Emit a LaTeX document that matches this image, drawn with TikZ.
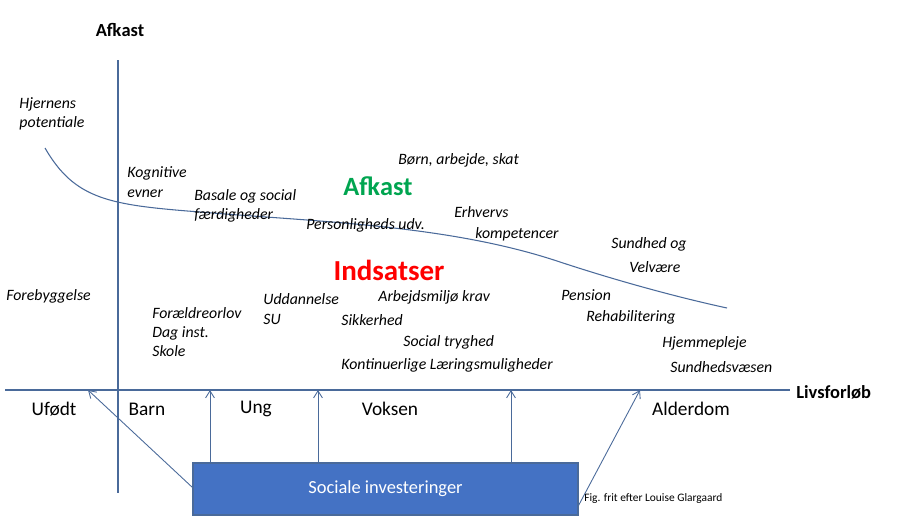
\documentclass[tikz,border=0pt]{standalone}
\usepackage{fontspec}
\setmainfont{Carlito}
\usetikzlibrary{arrows.meta}
\definecolor{ln}{HTML}{4A6A9A}
\definecolor{bx}{HTML}{4472C4}
\definecolor{gr}{HTML}{00A550}
\begin{document}
\begin{tikzpicture}[x=0.02cm,y=-0.02cm,
  lbl/.style={font=\fontsize{9}{11}\selectfont\itshape,align=left,inner sep=0},
  stage/.style={font=\fontsize{11}{13}\selectfont,inner sep=0},
  ax/.style={font=\fontsize{10.5}{12}\selectfont\bfseries,inner sep=0},
  arr/.style={ln,line width=0.5pt,-{Straight Barb[length=4pt,width=5pt]}}]
\useasboundingbox (0,0) rectangle (907,525);
\fill[white] (0,0) rectangle (907,525);
\coordinate (vt) at (118,60); \coordinate (vb) at (118,493);
\coordinate (hl) at (5,390); \coordinate (hr) at (790,390);
\draw[ln,line width=0.6pt] (vt) -- (vb);
\draw[ln,line width=0.6pt] (hl) -- (hr);
\node[ax] (afk) at (120,30) {Afkast};
\node[ax,anchor=west] (liv) at (796,392) {Livsforløb};
\draw[ln,line width=0.6pt] (45,148) .. controls (75,200) and (110,205) .. (200,212)
  .. controls (320,222) and (450,225) .. (560,262) .. controls (630,285) and (690,300) .. (727,308);
\node[lbl] (hj) at (52,114) {Hjernens\\potentiale};
\node[lbl,anchor=west] (ko) at (127,182) {Kognitive\\evner};
\node[lbl,anchor=west] (ba) at (194,206) {Basale og social\\færdigheder};
\node[font=\fontsize{15}{18}\selectfont\bfseries,text=gr,inner sep=0] (ag) at (378,186) {Afkast};
\node[lbl,anchor=west] (bo) at (398,160) {Børn, arbejde, skat};
\node[lbl,anchor=west] (pe) at (306,225) {Personligheds udv.};
\node[lbl,anchor=west] (er) at (454,212) {Erhvervs};
\node[lbl,anchor=west] (kp) at (475,234) {kompetencer};
\node[lbl,anchor=west] (su) at (611,244) {Sundhed og};
\node[lbl,anchor=west] (ve) at (629,267) {Velvære};
\node[font=\fontsize{16.5}{19}\selectfont\bfseries,text=red,inner sep=0] (ind) at (389,270) {Indsatser};
\node[lbl,anchor=west] (fo) at (6,296) {Forebyggelse};
\node[lbl,anchor=west] (fr) at (152,332) {Forældreorlov\\Dag inst.\\Skole};
\node[lbl,anchor=west] (ud) at (263,309) {Uddannelse\\SU};
\node[lbl,anchor=west] (ar) at (378,297) {Arbejdsmiljø krav};
\node[lbl,anchor=west] (si) at (341,320) {Sikkerhed};
\node[lbl,anchor=west] (so) at (403,342) {Social tryghed};
\node[lbl,anchor=west] (kl) at (341,365) {Kontinuerlige Læringsmuligheder};
\node[lbl,anchor=west] (pn) at (561,295) {Pension};
\node[lbl,anchor=west] (re) at (586,317) {Rehabilitering};
\node[lbl,anchor=west] (hm) at (662,343) {Hjemmepleje};
\node[lbl,anchor=west] (sv) at (670,367) {Sundhedsvæsen};
\node[stage] (uf) at (54,409) {Ufødt};
\node[stage] (ba2) at (147,409) {Barn};
\node[stage] (un) at (256,409) {Ung};
\node[stage] (vo) at (390,409) {Voksen};
\node[stage] (al) at (691,409) {Alderdom};
\node[fill=bx,draw=ln,line width=0.6pt,minimum width=385*0.02cm,minimum height=52*0.02cm,inner sep=0,
  text=white,font=\fontsize{10.5}{12}\selectfont] (box) at (385.5,489) {Sociale investeringer};
\node[font=\fontsize{6.5}{8}\selectfont,anchor=west,inner sep=0] (fig) at (584,499) {Fig. frit efter Louise Glargaard};
\coordinate (t1) at (88,390); \coordinate (t2) at (210,390); \coordinate (t3) at (318,390);
\coordinate (t4) at (511,390); \coordinate (t5) at (640,390);
\draw[arr] (box.north west) ++(0,25) -- (t1);
\draw[arr] (box.north west -| t2) -- (t2);
\draw[arr] (box.north west -| t3) -- (t3);
\draw[arr] (box.north west -| t4) -- (t4);
\draw[arr] (box.south east) ++(0,-10) -- (t5);
\end{tikzpicture}
\end{document}
